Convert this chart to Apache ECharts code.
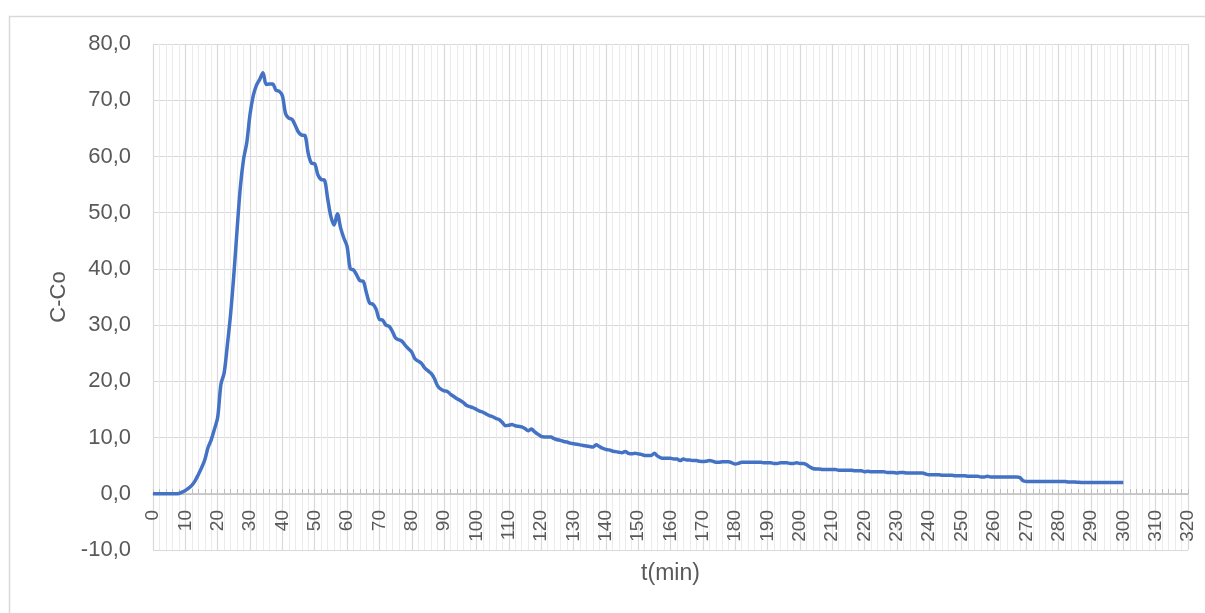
<!DOCTYPE html>
<html>
<head>
<meta charset="utf-8">
<script src="https://cdn.jsdelivr.net/npm/echarts@6/dist/echarts.min.js"></script>
<style>html,body{margin:0;padding:0;background:#fff}#c{width:1205px;height:613px}</style>
</head>
<body>
<div id="c"></div>
<script>
// time (min)
var tMin = [
0,1,2,3,4,5,6,7,8,9,10,11,12,13,14,15,16,17,18,19,
20,21,22,23,24,25,26,27,28,29,30,31,32,33,34,35,36,37,38,39,
40,41,42,43,44,45,46,47,48,49,50,51,52,53,54,55,56,57,58,59,
60,61,62,63,64,65,66,67,68,69,70,71,72,73,74,75,76,77,78,79,
80,81,82,83,84,85,86,87,88,89,90,91,92,93,94,95,96,97,98,99,
100,101,102,103,104,105,106,107,108,109,110,111,112,113,114,115,116,117,118,119,
120,121,122,123,124,125,126,127,128,129,130,131,132,133,134,135,136,137,138,139,
140,141,142,143,144,145,146,147,148,149,150,151,152,153,154,155,156,157,158,159,
160,161,162,163,164,165,166,167,168,169,170,171,172,173,174,175,176,177,178,179,
180,181,182,183,184,185,186,187,188,189,190,191,192,193,194,195,196,197,198,199,
200,201,202,203,204,205,206,207,208,209,210,211,212,213,214,215,216,217,218,219,
220,221,222,223,224,225,226,227,228,229,230,231,232,233,234,235,236,237,238,239,
240,241,242,243,244,245,246,247,248,249,250,251,252,253,254,255,256,257,258,259,
260,261,262,263,264,265,266,267,268,269,270,271,272,273,274,275,276,277,278,279,
280,281,282,283,284,285,286,287,288,289,290,291,292,293,294,295,296,297,298,299,
300
];
// C-Co values
var cCo = [
0,0,0,0,0,0,0,0,0.05,0.3,
0.6,1.0,1.5,2.3,3.4,4.6,6.0,8.2,9.6,11.5,
13.6,19.5,21.5,26.5,32.0,39.0,47.0,54.5,59.5,62.5,
67.5,70.8,72.7,73.7,74.9,72.8,72.9,72.9,71.8,71.6,
70.8,67.6,66.8,66.6,65.5,64.3,63.8,63.7,60.5,58.8,
58.7,56.7,55.9,55.8,52.5,49.3,47.8,49.8,47.3,45.5,
44.0,40.0,39.8,38.9,37.9,37.8,35.7,33.9,33.7,32.8,
31.0,30.9,30.0,29.8,28.9,27.7,27.4,27.1,26.4,25.8,
25.2,24.0,23.6,23.2,22.4,21.9,21.4,20.5,19.2,18.6,
18.3,18.2,17.7,17.3,16.9,16.6,16.2,15.7,15.5,15.3,
15.0,14.7,14.5,14.2,13.9,13.7,13.4,13.2,12.7,12.1,
12.2,12.3,12.1,12.0,11.9,11.6,11.2,11.5,11.0,10.6,
10.2,10.1,10.1,10.1,9.8,9.6,9.5,9.3,9.2,9.0,
8.9,8.8,8.7,8.6,8.5,8.4,8.3,8.7,8.4,8.1,
7.9,7.8,7.6,7.5,7.4,7.3,7.5,7.2,7.1,7.2,
7.1,7.0,6.8,6.8,6.8,7.2,6.7,6.4,6.3,6.3,
6.3,6.2,6.2,5.9,6.2,6.0,6.0,5.9,5.9,5.8,
5.75,5.8,5.9,5.8,5.6,5.6,5.7,5.7,5.7,5.5,
5.3,5.4,5.6,5.6,5.6,5.6,5.6,5.6,5.6,5.5,
5.5,5.5,5.4,5.4,5.5,5.5,5.5,5.4,5.4,5.5,
5.4,5.4,5.2,4.8,4.5,4.4,4.4,4.3,4.3,4.3,
4.3,4.3,4.2,4.2,4.2,4.2,4.2,4.1,4.1,4.1,
3.9,4.0,3.9,3.9,3.9,3.9,3.9,3.8,3.8,3.8,
3.7,3.8,3.8,3.7,3.7,3.7,3.7,3.7,3.7,3.5,
3.4,3.4,3.4,3.4,3.3,3.3,3.3,3.3,3.2,3.2,
3.2,3.2,3.1,3.1,3.1,3.1,3.0,3.0,3.1,3.0,
3.0,3.0,3.0,3.0,3.0,3.0,3.0,3.0,2.9,2.3,
2.2,2.2,2.2,2.2,2.2,2.2,2.2,2.2,2.2,2.2,
2.2,2.2,2.2,2.1,2.1,2.1,2.05,2.0,2.0,2.0,
2.0,2.0,2.0,2.0,2.0,2.0,2.0,2.0,2.0,2.0,
2.0
];
var xAxisName = 't(min)';
var yAxisName = 'C-Co';

var pts = tMin.map(function (t, i) { return [t, cCo[i]]; });
var font = '"Liberation Sans", Arial, sans-serif';
var chart = echarts.init(document.getElementById('c'), null, {renderer: 'canvas'});
chart.setOption({
  animation: false,
  backgroundColor: '#fff',
  graphic: [{
    type: 'rect', left: 7, top: 14, silent: true, z: -10,
    shape: {width: 1300, height: 700},
    style: {fill: 'none', stroke: '#D9D9D9', lineWidth: 1.5}
  }],
  grid: {left: 153, right: 17, top: 44, bottom: 63, containLabel: false, outerBoundsMode: 'none'},
  xAxis: {
    type: 'value', min: 0, max: 320, interval: 10,
    position: 'bottom', offset: -56,
    name: xAxisName, nameLocation: 'middle', nameGap: 68,
    nameTextStyle: {fontFamily: font, fontSize: 23, color: '#595959'},
    axisLine: {show: true, onZero: false, lineStyle: {color: '#BFBFBF', width: 1.5}},
    axisTick: {show: true, inside: true, length: 5, lineStyle: {color: '#BFBFBF'}},
    minorTick: {show: true, splitNumber: 5, length: 5, lineStyle: {color: '#BFBFBF'}},
    axisLabel: {rotate: 90, margin: 16, fontFamily: font, fontSize: 19, color: '#595959'},
    splitLine: {show: true, lineStyle: {color: '#D9D9D9', width: 1.2}},
    minorSplitLine: {show: true, lineStyle: {color: '#EBEBEB', width: 1}}
  },
  yAxis: {
    type: 'value', min: -10, max: 80, interval: 10,
    name: yAxisName, nameLocation: 'middle', nameGap: 80, nameRotate: 90,
    nameTextStyle: {fontFamily: font, fontSize: 22, color: '#595959'},
    axisLine: {show: false},
    axisTick: {show: false},
    axisLabel: {margin: 22, fontFamily: font, fontSize: 22, color: '#595959',
      formatter: function (v) { return v.toFixed(1).replace('.', ','); }},
    splitLine: {show: true, lineStyle: {color: '#D9D9D9', width: 1.2}}
  },
  series: [{
    type: 'line', data: pts, showSymbol: false, smooth: 0.3,
    lineStyle: {color: '#4472C4', width: 3.5},
    itemStyle: {color: '#4472C4'}
  }]
});
</script>
</body>
</html>
